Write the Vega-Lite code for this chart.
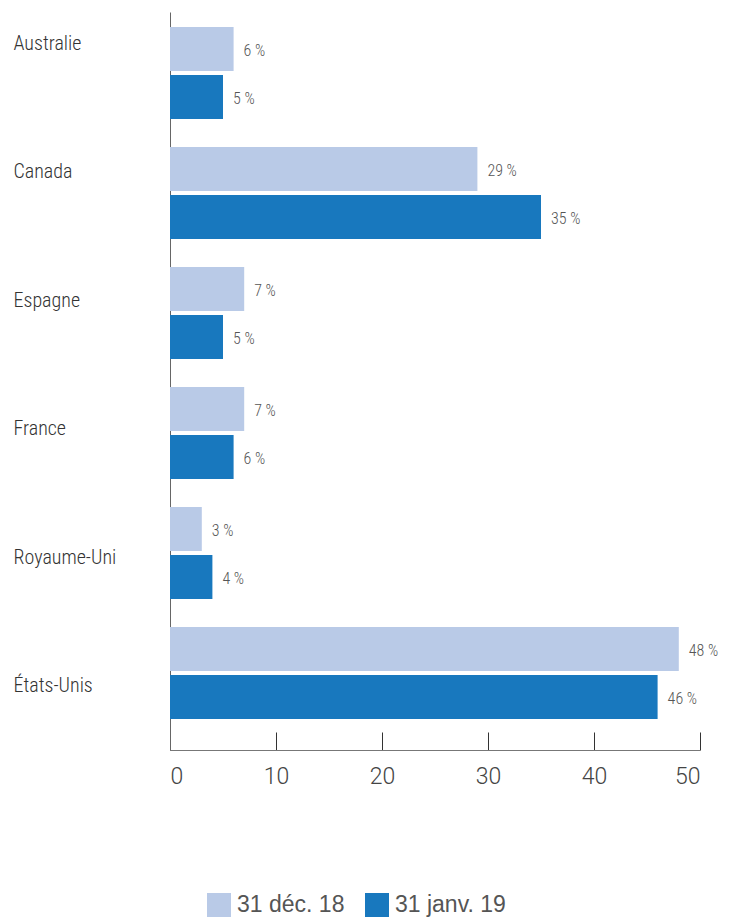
{
  "$schema": "https://vega.github.io/schema/vega-lite/v6.json",
  "width": 530,
  "height": 738,
  "autosize": {"type": "none"},
  "padding": {"left": 170, "top": 12, "right": 41, "bottom": 168},
  "background": "white",
  "config": {"view": {"stroke": null}},
  "data": {
    "values": [
      {"country": "Australie", "series": "31 déc. 18", "value": 6},
      {"country": "Australie", "series": "31 janv. 19", "value": 5},
      {"country": "Canada", "series": "31 déc. 18", "value": 29},
      {"country": "Canada", "series": "31 janv. 19", "value": 35},
      {"country": "Espagne", "series": "31 déc. 18", "value": 7},
      {"country": "Espagne", "series": "31 janv. 19", "value": 5},
      {"country": "France", "series": "31 déc. 18", "value": 7},
      {"country": "France", "series": "31 janv. 19", "value": 6},
      {"country": "Royaume-Uni", "series": "31 déc. 18", "value": 3},
      {"country": "Royaume-Uni", "series": "31 janv. 19", "value": 4},
      {"country": "États-Unis", "series": "31 déc. 18", "value": 48},
      {"country": "États-Unis", "series": "31 janv. 19", "value": 46}
    ]
  },
  "transform": [{"calculate": "datum.value + ' %'", "as": "label"}],
  "encoding": {
    "y": {
      "field": "country",
      "type": "nominal",
      "sort": ["Australie", "Canada", "Espagne", "France", "Royaume-Uni", "États-Unis"],
      "scale": {"paddingInner": 0.2333, "paddingOuter": 0.1917, "align": 0.326},
      "axis": {
        "title": null,
        "ticks": false,
        "domainColor": "#666",
        "labelAlign": "left",
        "labelBaseline": "middle",
        "labelPadding": 157,
        "labelFont": "Roboto Condensed, Roboto",
        "labelFontWeight": 300,
        "labelFontSize": 20,
        "labelColor": "#333",
        "labelOffset": {"expr": "-29 + 42*datum.index"}
      }
    },
    "yOffset": {
      "field": "series",
      "type": "nominal",
      "sort": ["31 déc. 18", "31 janv. 19"],
      "scale": {"paddingInner": 0.0833, "paddingOuter": 0}
    },
    "x": {
      "field": "value",
      "type": "quantitative",
      "scale": {"domain": [0, 50], "nice": false},
      "axis": {
        "title": null,
        "values": [0, 10, 20, 30, 40, 50],
        "grid": false,
        "tickSize": -18,
        "tickColor": "#333",
        "domainColor": "#777",
        "labelFlush": true,
        "labelFont": "Roboto",
        "labelFontWeight": 300,
        "labelFontSize": 23,
        "labelColor": "#444",
        "labelPadding": 33
      }
    }
  },
  "layer": [
    {
      "mark": {"type": "bar"},
      "encoding": {
        "color": {
          "field": "series",
          "type": "nominal",
          "sort": ["31 déc. 18", "31 janv. 19"],
          "scale": {"domain": ["31 déc. 18", "31 janv. 19"], "range": ["#b9cae7", "#1878be"]},
          "legend": {
            "title": null,
            "orient": "none",
            "direction": "horizontal",
            "legendX": 37,
            "legendY": 881,
            "symbolType": "square",
            "symbolSize": 576,
            "symbolStrokeWidth": 0,
            "symbolOpacity": 1,
            "labelFont": "Liberation Sans",
            "labelFontSize": 23,
            "labelColor": "#555",
            "labelOffset": 6,
            "columnPadding": 20,
            "padding": 0
          }
        }
      }
    },
    {
      "mark": {"type": "text", "align": "left", "baseline": "middle", "dx": 10, "dy": 2, "font": "Roboto Condensed, Roboto", "fontWeight": 300, "fontSize": 16, "fill": "#555"},
      "encoding": {"text": {"field": "label", "type": "nominal"}}
    }
  ]
}
